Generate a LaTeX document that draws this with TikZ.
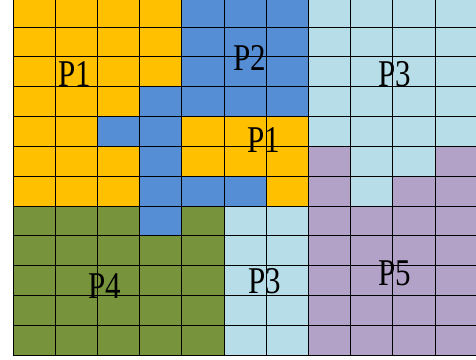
\documentclass[tikz,border=0pt]{standalone}
\usepackage{fontspec}
\setmainfont{Liberation Serif}
\usepackage{graphicx}
\usepackage{tikz}
\definecolor{cY}{HTML}{FFC000}
\definecolor{cB}{HTML}{558ED5}
\definecolor{cL}{HTML}{B7DEE8}
\definecolor{cG}{HTML}{77933C}
\definecolor{cP}{HTML}{B3A2C7}
\tikzstyle{part} = [inner sep=0pt, font=\fontsize{31}{31}\selectfont]
\def\lbl#1{\scalebox{1}[1.22]{#1}}

\begin{document}
\begin{tikzpicture}[x=42.2pt, y=-29.82pt]
\useasboundingbox (-0.308,0.094) rectangle (10.972,12.166);
\clip (-0.308,0.094) rectangle (10.972,12.166);
\foreach \row [count=\r from 0] in {
  {Y,Y,Y,Y,B,B,B,L,L,L,L},
  {Y,Y,Y,Y,B,B,B,L,L,L,L},
  {Y,Y,Y,Y,B,B,B,L,L,L,L},
  {Y,Y,Y,B,B,B,B,L,L,L,L},
  {Y,Y,B,B,Y,Y,Y,L,L,L,L},
  {Y,Y,Y,B,Y,Y,Y,P,L,L,P},
  {Y,Y,Y,B,B,B,Y,P,L,P,P},
  {G,G,G,B,G,L,L,P,P,P,P},
  {G,G,G,G,G,L,L,P,P,P,P},
  {G,G,G,G,G,L,L,P,P,P,P},
  {G,G,G,G,G,L,L,P,P,P,P},
  {G,G,G,G,G,L,L,P,P,P,P}}
  \foreach \c [count=\k from 0] in \row
    \fill [c\c] (\k,\r) rectangle ++(1,1);
\foreach \k in {0,...,11}
  \draw [line width=0.8pt] (\k,0) -- (\k,12);
\foreach \r in {0,...,12}
  \draw [line width=0.8pt] (0,\r) -- (11,\r);

\node (p1a) [part] at (1.469,2.575) {\lbl{P1}};
\node (p2)  [part] at (5.616,2.039) {\lbl{P2}};
\node (p3a) [part] at (9.052,2.575) {\lbl{P3}};
\node (p1b) [part] at (5.948,4.789) {\lbl{P1}};
\node (p4)  [part] at (2.180,9.685) {\lbl{P4}};
\node (p3b) [part] at (5.972,9.517) {\lbl{P3}};
\node (p5)  [part] at (9.052,9.249) {\lbl{P5}};
\end{tikzpicture}
\end{document}
